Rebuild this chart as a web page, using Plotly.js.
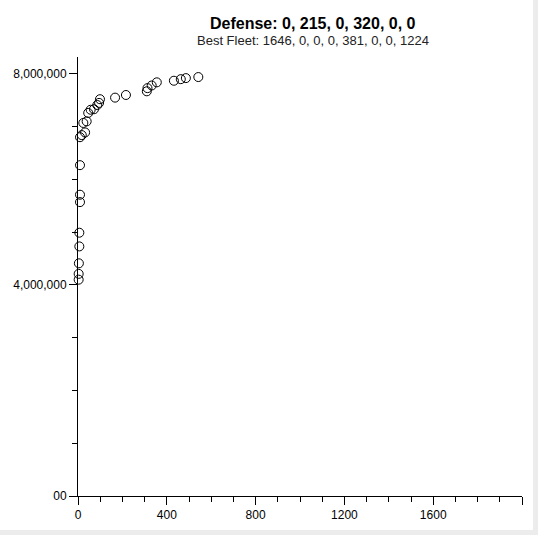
<!DOCTYPE html><html><head><script src="https://cdn.plot.ly/plotly-3.0.1.min.js"></script>
<style>body{margin:0;background:#ececec}#c{width:533px;height:530px;background:#fff}</style></head><body><div id="c"></div><script>
const fleetSize=[542,486,463,432,355,332,313,310,216,167,99,95,87,72,57,46,39,24,32,17,9,9,9,9,6,6,4,3,3];
const value=[7.94,7.92,7.90,7.87,7.84,7.78,7.73,7.67,7.60,7.55,7.52,7.45,7.41,7.33,7.32,7.26,7.10,7.07,6.89,6.84,6.80,6.27,5.71,5.57,4.99,4.73,4.41,4.21,4.10].map(v=>v*1e6);
const xTickVals=[0,400,800,1200,1600,2000];
const xTickText=["0","400","800","1200","1600","2000"];
const yTickVals=[0,4e6,8e6];
const yTickText=["00","4,000,000","8,000,000"];
const titleText="Defense: 0, 215, 0, 320, 0, 0";
const subText="Best Fleet: 1646, 0, 0, 0, 381, 0, 0, 1224";
Plotly.newPlot('c',[{x:fleetSize,y:value,mode:'markers',type:'scatter',cliponaxis:false,
marker:{symbol:'circle-open',size:9,color:'#000',line:{width:1,color:'#000'}}}],
{width:533,height:530,paper_bgcolor:'#fff',plot_bgcolor:'#fff',showlegend:false,
margin:{l:78,r:11,t:57,b:34},font:{family:'Liberation Sans, Arial',size:12,color:'#000'},
annotations:[{text:'<b>'+titleText+'</b>',xref:'paper',yref:'paper',x:0.53,y:1,yshift:44,showarrow:false,font:{size:16,color:'#000'}},
{text:subText,xref:'paper',yref:'paper',x:0.53,y:1,yshift:26,showarrow:false,font:{size:13,color:'#222'}}],
xaxis:{range:[0,2000],showgrid:false,zeroline:false,showline:true,linecolor:'#000',ticks:'outside',ticklen:8,tickcolor:'#000',tickvals:xTickVals,ticktext:xTickText,tickfont:{color:'#000'},
minor:{tickvals:[100,200,300,500,600,700,900,1000,1100,1300,1400,1500,1700,1800,1900],ticks:'outside',ticklen:5,tickcolor:'#000'}},
yaxis:{range:[0,8.32e6],showgrid:false,zeroline:false,showline:true,linecolor:'#000',ticks:'outside',ticklen:8,tickcolor:'#000',tickvals:yTickVals,ticktext:yTickText,tickfont:{color:'#000'},
minor:{tickvals:[1e6,2e6,3e6,5e6,6e6,7e6],ticks:'outside',ticklen:5,tickcolor:'#000'}}
},{displayModeBar:false});
</script></body></html>
